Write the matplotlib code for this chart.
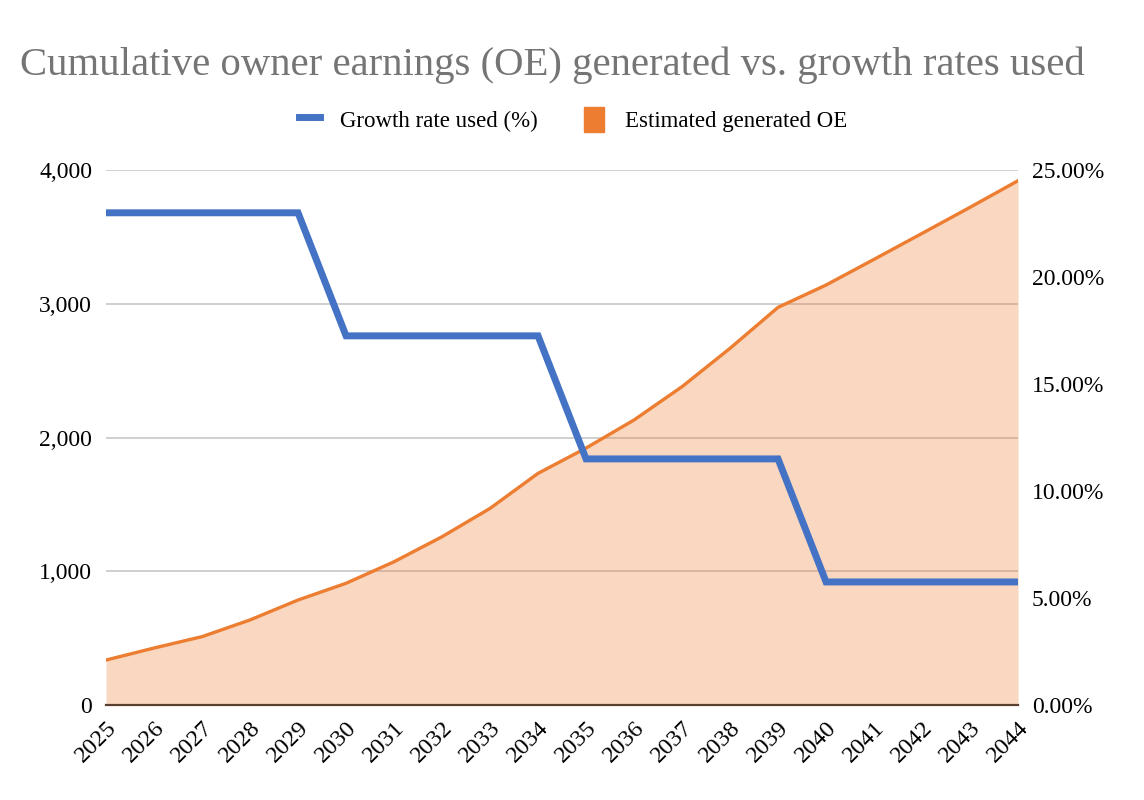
import numpy as np
import matplotlib.pyplot as plt
from matplotlib.lines import Line2D
from matplotlib.patches import Patch
from matplotlib.ticker import FuncFormatter

years = [str(y) for y in range(2025, 2045)]
growth_rate = [23, 23, 23, 23, 23, 17.25, 17.25, 17.25, 17.25, 17.25,
               11.5, 11.5, 11.5, 11.5, 11.5, 5.75, 5.75, 5.75, 5.75, 5.75]
generated_oe = [336, 426, 511, 636, 785, 910, 1071, 1258, 1470, 1732,
                1921, 2131, 2380, 2667, 2973, 3140, 3332, 3526, 3721, 3920]

blue = '#4472C4'
orange = '#ED7D31'
serif = ['Liberation Serif', 'DejaVu Serif']

fig = plt.figure(figsize=(11.44, 8), dpi=100)
ax = fig.add_axes([0.0927, 0.11875, 0.7972, 0.66875])
x = np.arange(len(years))

# OE area on the left axis
ax.fill_between(x, generated_oe, 0, color=orange, alpha=0.3, lw=0, zorder=2)
ax.plot(x, generated_oe, color=orange, lw=2.4, zorder=3)
ax.set_ylim(0, 4000)
ax.set_xlim(0, len(years) - 1)
ax.set_yticks([0, 1000, 2000, 3000, 4000])
ax.yaxis.set_major_formatter(FuncFormatter(lambda v, p: f'{v:,.0f}'))
ax.grid(axis='y', color='#cccccc', lw=1.3, zorder=1)
ax.set_axisbelow(True)
ax.set_xticks(x)
ax.set_xticklabels(years, rotation=45, ha='right', rotation_mode='anchor')

# growth rate on the right axis
ax2 = ax.twinx()
ax2.plot(x, growth_rate, color=blue, lw=5, zorder=4, solid_joinstyle='miter')
ax2.set_ylim(0, 25)
ax2.set_yticks([0, 5, 10, 15, 20, 25])
ax2.yaxis.set_major_formatter(FuncFormatter(lambda v, p: f'{v:.2f}%'))

for a in (ax, ax2):
    for s in ('top', 'left', 'right'):
        a.spines[s].set_visible(False)
    a.tick_params(length=0, labelsize=17, pad=10)
    for lab in a.get_xticklabels() + a.get_yticklabels():
        lab.set_fontfamily(serif)
ax.spines['bottom'].set_color('#5a3e30')
ax.spines['bottom'].set_linewidth(1.6)
ax2.spines['bottom'].set_visible(False)
ax.tick_params(axis='x', pad=9, labelsize=17.5)

fig.text(0.483, 0.918, 'Cumulative owner earnings (OE) generated vs. growth rates used',
         ha='center', va='center', fontsize=29.3, color='#757575', family=serif)

handles = [Line2D([0], [0], color=blue, lw=5),
           Patch(facecolor=orange, edgecolor=orange)]
fig.legend(handles, ['Growth rate used (%)', 'Estimated generated OE'],
           loc='center', bbox_to_anchor=(0.501, 0.851), ncol=2, frameon=False,
           prop={'family': serif, 'size': 16.5}, handlelength=0.9,
           handleheight=1.3, handletextpad=0.9, columnspacing=2.0)

fig.savefig('out.png', dpi=100, facecolor='white')
